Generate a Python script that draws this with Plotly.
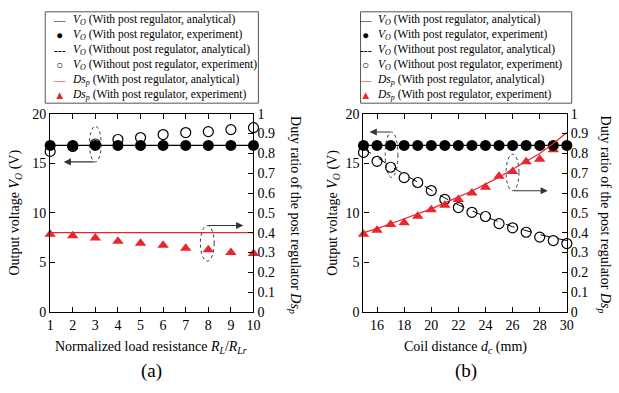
import plotly.graph_objects as go

# ---------------- data ----------------
# (a) normalized load resistance
rl = [1, 2, 3, 4, 5, 6, 7, 8, 9, 10]
vo_with_exp_a = [16.8, 16.8, 16.8, 16.8, 16.8, 16.8, 16.8, 16.8, 16.8, 16.8]
vo_with_ana_a = [16.8, 16.8, 16.8, 16.8, 16.8, 16.8, 16.8, 16.8, 16.8, 16.8]
vo_without_exp_a = [16.2, 16.7, 16.95, 17.4, 17.6, 17.9, 18.1, 18.2, 18.4, 18.6]
ds_exp_a = [0.392, 0.384, 0.373, 0.357, 0.347, 0.337, 0.321, 0.314, 0.300, 0.295]
ds_ana_a = [0.40, 0.40, 0.40, 0.40, 0.40, 0.40, 0.40, 0.40, 0.40, 0.40]

# (b) coil distance
dc = [15, 16, 17, 18, 19, 20, 21, 22, 23, 24, 25, 26, 27, 28, 29, 30]
vo_with_exp_b = [16.8] * 16
vo_with_ana_b = [16.8] * 16
vo_without_exp_b = [16.1, 15.2, 14.6, 13.55, 13.06, 12.25, 11.35, 10.53, 10.05, 9.63,
                    8.91, 8.49, 8.04, 7.55, 7.2, 6.9]
vo_without_ana_b = [16.5, 15.6, 14.7, 13.9, 13.1, 12.3, 11.5, 10.8, 10.2, 9.6,
                    9.1, 8.6, 8.2, 7.8, 7.5, 7.2]
ds_exp_b = [0.392, 0.412, 0.441, 0.450, 0.483, 0.515, 0.538, 0.567, 0.600, 0.629,
            0.684, 0.708, 0.758, 0.771, 0.818, None]
ds_ana_b = [0.40, 0.42, 0.445, 0.47, 0.495, 0.52, 0.55, 0.58, 0.61, 0.645,
            0.68, 0.72, 0.76, 0.80, 0.85, 0.905]

y1_ticks = [0, 5, 10, 15, 20]
y2_ticks = [0, 0.1, 0.2, 0.3, 0.4, 0.5, 0.6, 0.7, 0.8, 0.9, 1]
xa_ticks = [1, 2, 3, 4, 5, 6, 7, 8, 9, 10]
xb_ticks = [16, 18, 20, 22, 24, 26, 28, 30]

names = [
    "<i>V<sub>O</sub></i> (With post regulator, analytical)",
    "<i>V<sub>O</sub></i> (With post regulator, experiment)",
    "<i>V<sub>O</sub></i> (Without post regulator, analytical)",
    "<i>V<sub>O</sub></i> (Without post regulator, experiment)",
    "<i>Ds<sub>p</sub></i> (With post regulator, analytical)",
    "<i>Ds<sub>p</sub></i> (With post regulator, experiment)",
]
legend_symbols = ["—", "●", "---", "○", "<span style='color:#e8262b'>—</span>",
                  "<span style='color:#e8262b'>▲</span>"]

FONT = "Liberation Serif, Times New Roman, serif"
RED = "#e8262b"

fig = go.Figure()


def add_panel(x, vo_ana, vo_exp, vo_wo_ana, vo_wo_exp, ds_ana, ds_exp, xa, ya, ya2,
              ya_top, ya2_top):
    # base voltage axis: open circles / dashed analytical
    if vo_wo_ana is not None:
        fig.add_trace(go.Scatter(x=x, y=vo_wo_ana, mode="lines", name=names[2],
                                 line=dict(color="black", width=1, dash="dash"),
                                 xaxis=xa, yaxis=ya, cliponaxis=False))
    fig.add_trace(go.Scatter(x=x, y=vo_wo_exp, mode="markers", name=names[3],
                             marker=dict(symbol="circle-open", size=10, color="black",
                                         line=dict(width=1.2)),
                             xaxis=xa, yaxis=ya, cliponaxis=False))
    # duty-ratio axis: triangles
    fig.add_trace(go.Scatter(x=x, y=ds_exp, mode="markers", name=names[5],
                             marker=dict(symbol="triangle-up", size=10, color=RED),
                             xaxis=xa, yaxis=ya2, cliponaxis=False))
    # voltage overlay: regulated output
    fig.add_trace(go.Scatter(x=x, y=vo_ana, mode="lines", name=names[0],
                             line=dict(color="black", width=1.2), xaxis=xa, yaxis=ya_top,
                             cliponaxis=False))
    fig.add_trace(go.Scatter(x=x, y=vo_exp, mode="markers", name=names[1],
                             marker=dict(symbol="circle", size=11, color="black"),
                             xaxis=xa, yaxis=ya_top, cliponaxis=False))
    # duty-ratio overlay: analytical line
    fig.add_trace(go.Scatter(x=x, y=ds_ana, mode="lines", name=names[4],
                             line=dict(color=RED, width=1.2), xaxis=xa, yaxis=ya2_top,
                             cliponaxis=False))


add_panel(rl, vo_with_ana_a, vo_with_exp_a, None, vo_without_exp_a, ds_ana_a, ds_exp_a,
          "x", "y", "y2", "y5", "y6")
add_panel(dc, vo_with_ana_b, vo_with_exp_b, vo_without_ana_b, vo_without_exp_b,
          ds_ana_b, ds_exp_b, "x2", "y3", "y4", "y7", "y8")

W, H = 619, 393
dom_a = [47 / W, 254 / W]
dom_b = [366 / W, 573 / W]
dom_y = [1 - 317 / H, 1 - 111 / H]

tickfont = dict(family=FONT, size=14, color="black")
axcommon = dict(showline=True, linecolor="black", linewidth=1.2, ticks="inside",
                ticklen=5, tickcolor="black", showgrid=False, zeroline=False,
                tickfont=tickfont)
hidden = dict(visible=False, showgrid=False, zeroline=False)

fig.update_layout(
    width=W, height=H, margin=dict(l=0, r=0, t=0, b=0),
    plot_bgcolor="white", paper_bgcolor="white",
    font=dict(family=FONT, color="black"),
    showlegend=False,
    xaxis=dict(domain=dom_a, range=[1, 10], tickvals=xa_ticks, mirror="ticks",
               anchor="y", **axcommon),
    yaxis=dict(domain=dom_y, range=[0, 20], tickvals=y1_ticks, anchor="x", **axcommon),
    yaxis2=dict(domain=dom_y, range=[0, 1], tickvals=y2_ticks, overlaying="y",
                side="right", anchor="x", **axcommon),
    yaxis5=dict(domain=dom_y, range=[0, 20], overlaying="y", anchor="x", **hidden),
    yaxis6=dict(domain=dom_y, range=[0, 1], overlaying="y", anchor="x", **hidden),
    xaxis2=dict(domain=dom_b, range=[15, 30], tickvals=xb_ticks, mirror="ticks",
                anchor="y3", **axcommon),
    yaxis3=dict(domain=dom_y, range=[0, 20], tickvals=y1_ticks, anchor="x2", **axcommon),
    yaxis4=dict(domain=dom_y, range=[0, 1], tickvals=y2_ticks, overlaying="y3",
                side="right", anchor="x2", **axcommon),
    yaxis7=dict(domain=dom_y, range=[0, 20], overlaying="y3", anchor="x2", **hidden),
    yaxis8=dict(domain=dom_y, range=[0, 1], overlaying="y3", anchor="x2", **hidden),
)

# legends (boxed text blocks above each panel)
lfont = dict(family=FONT, size=11.5, color="black")
for (bx0, bx1, sym_x, txt_x) in [(42, 259, 57, 67), (363, 578, 368, 378)]:
    fig.add_shape(type="rect", xref="paper", yref="paper", x0=bx0 / W, x1=bx1 / W,
                  y0=1 - 100 / H, y1=1 - 5 / H, line=dict(color="#555555", width=1),
                  fillcolor="white", layer="above")
    fig.add_annotation(text="<br>".join(legend_symbols), x=sym_x / W, y=1 - 53 / H,
                       xref="paper", yref="paper", showarrow=False, xanchor="center",
                       yanchor="middle", align="center", font=lfont)
    fig.add_annotation(text="<br>".join(names), x=txt_x / W, y=1 - 53 / H,
                       xref="paper", yref="paper", showarrow=False, xanchor="left",
                       yanchor="middle", align="left", font=lfont)

# axis titles and panel labels
tfont = dict(family=FONT, size=14, color="black")
ann = [
    dict(text="Output voltage <i>V<sub>O</sub></i> (V)", x=12 / W, y=1 - 214 / H,
         textangle=-90, font=tfont),
    dict(text="Duty ratio of the post regulator <i>Ds<sub>p</sub></i>", x=296 / W,
         y=1 - 216 / H, textangle=90, font=tfont),
    dict(text="Output voltage <i>V<sub>O</sub></i> (V)", x=336 / W, y=1 - 214 / H,
         textangle=-90, font=tfont),
    dict(text="Duty ratio of the post regulator <i>Ds<sub>p</sub></i>", x=611 / W,
         y=1 - 216 / H, textangle=90, font=tfont),
    dict(text="Normalized load resistance <i>R<sub>L</sub></i>/<i>R<sub>Lr</sub></i>",
         x=150 / W, y=1 - 354 / H, font=tfont),
    dict(text="Coil distance <i>d<sub>c</sub></i> (mm)", x=470 / W, y=1 - 354 / H,
         font=tfont),
    dict(text="(a)", x=150 / W, y=1 - 378 / H, font=dict(family=FONT, size=19, color="black")),
    dict(text="(b)", x=470 / W, y=1 - 378 / H, font=dict(family=FONT, size=19, color="black")),
]
for a in ann:
    a.update(xref="paper", yref="paper", showarrow=False, xanchor="center", yanchor="middle")
    fig.add_annotation(**a)

# dashed ellipses
ell = [
    ("x", "y", 2.74, 15.14, 3.26, 18.74),
    ("x", "y", 7.65, 5.13, 8.26, 8.72),
    ("x2", "y3", 16.6, 13.58, 17.54, 18.16),
    ("x2", "y3", 25.52, 12.23, 26.47, 15.92),
]
for xr, yr, x0, y0, x1, y1 in ell:
    fig.add_shape(type="circle", xref=xr, yref=yr, x0=x0, y0=y0, x1=x1, y1=y1,
                  line=dict(color="#333333", width=1, dash="dot"))

# arrows (tail -> head)
arrows = [
    ("x", "y", 3.0, 15.14, 1.6, 15.14),
    ("x", "y", 7.95, 8.72, 9.55, 8.72),
    ("x2", "y3", 17.07, 18.16, 15.45, 18.16),
    ("x2", "y3", 26.0, 12.23, 28.6, 12.23),
]
for xr, yr, tx, ty, hx, hy in arrows:
    fig.add_annotation(x=hx, y=hy, ax=tx, ay=ty, xref=xr, yref=yr, axref=xr, ayref=yr,
                       showarrow=True, arrowhead=2, arrowsize=1.2, arrowwidth=1.2,
                       arrowcolor="#333333", text="")

fig.write_html("out.html",
               config={"displayModeBar": False},
               post_script="document.body.style.margin='0px';"
                           "document.body.style.overflow='hidden';")
